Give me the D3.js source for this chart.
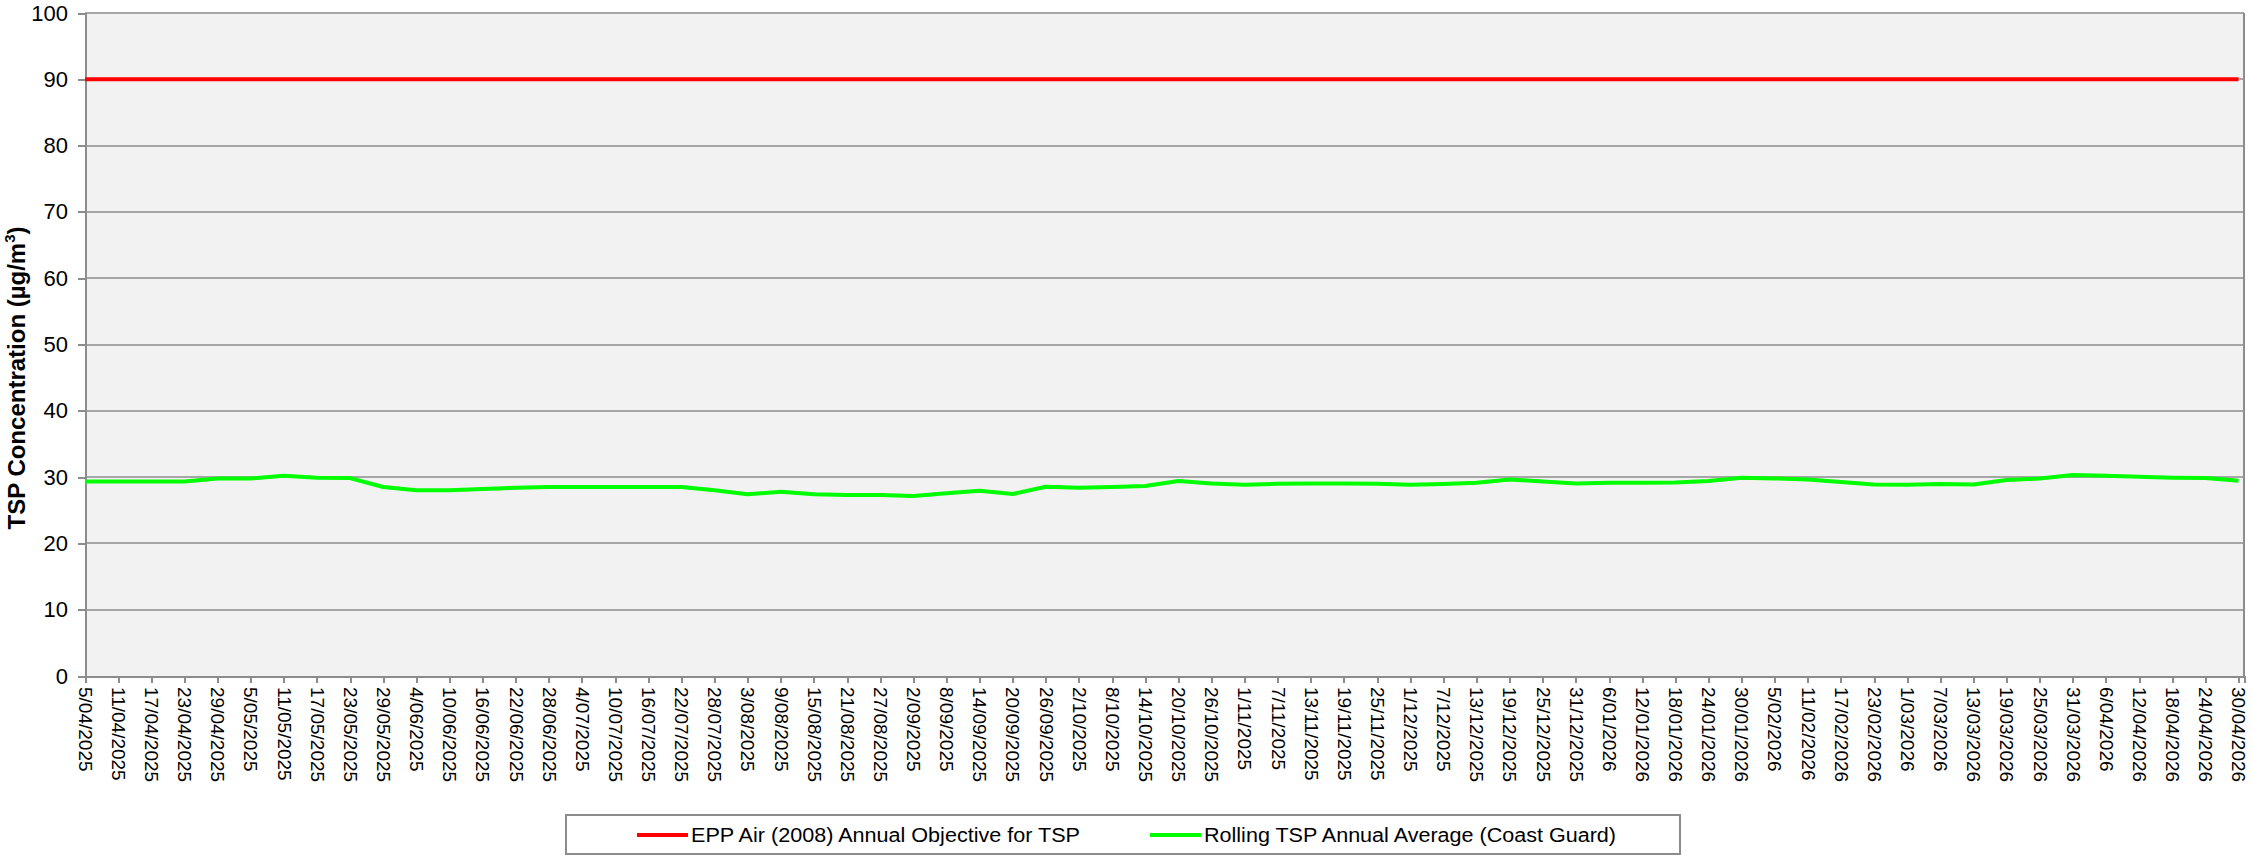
<!DOCTYPE html>
<html lang="en">
<head>
<meta charset="UTF-8">
<title>TSP rolling average</title>
<script src="https://d3js.org/d3.v7.min.js"></script>
<style>
    body { margin: 0; background: #fff; }
    svg { font-family: "Liberation Sans", Arial, sans-serif; }
    .axis path, .axis line { fill: none; stroke: #8c8c8c; stroke-width: 2; shape-rendering: crispEdges; }
    .axis text { fill: #000; }
</style>
</head>
<body>
<script>
    const width = 2252
    const height = 856
    const margin = {left: 85, right: 8, top: 13, bottom: 180}

    // sampling dates (every 6 days) used as category ticks
    const dates = ["5/04/2025", "11/04/2025", "17/04/2025", "23/04/2025", "29/04/2025", "5/05/2025",
        "11/05/2025", "17/05/2025", "23/05/2025", "29/05/2025", "4/06/2025", "10/06/2025", "16/06/2025",
        "22/06/2025", "28/06/2025", "4/07/2025", "10/07/2025", "16/07/2025", "22/07/2025", "28/07/2025",
        "3/08/2025", "9/08/2025", "15/08/2025", "21/08/2025", "27/08/2025", "2/09/2025", "8/09/2025",
        "14/09/2025", "20/09/2025", "26/09/2025", "2/10/2025", "8/10/2025", "14/10/2025", "20/10/2025",
        "26/10/2025", "1/11/2025", "7/11/2025", "13/11/2025", "19/11/2025", "25/11/2025", "1/12/2025",
        "7/12/2025", "13/12/2025", "19/12/2025", "25/12/2025", "31/12/2025", "6/01/2026", "12/01/2026",
        "18/01/2026", "24/01/2026", "30/01/2026", "5/02/2026", "11/02/2026", "17/02/2026", "23/02/2026",
        "1/03/2026", "7/03/2026", "13/03/2026", "19/03/2026", "25/03/2026", "31/03/2026", "6/04/2026",
        "12/04/2026", "18/04/2026", "24/04/2026", "30/04/2026"]

    // Rolling TSP Annual Average (Coast Guard), ug/m3
    const rollingAvg = [29.35, 29.35, 29.35, 29.35, 29.8, 29.8, 30.2, 29.9, 29.85, 28.5,
        28.0, 28.0, 28.2, 28.4, 28.5, 28.5, 28.5, 28.5, 28.5, 28.0,
        27.4, 27.8, 27.4, 27.3, 27.3, 27.15, 27.55, 27.95, 27.45, 28.55,
        28.4, 28.5, 28.65, 29.4, 29.05, 28.85, 29.0, 29.05, 29.05, 29.0,
        28.85, 28.95, 29.15, 29.65, 29.35, 29.05, 29.15, 29.15, 29.2, 29.4,
        29.9, 29.8, 29.65, 29.25, 28.9, 28.85, 28.95, 28.9, 29.55, 29.8,
        30.3, 30.2, 30.05, 29.9, 29.85, 29.45]

    // EPP Air (2008) annual objective for TSP
    const objective = 90
    const axisEnd = "1/05/2026"

    const yTicks = [0, 10, 20, 30, 40, 50, 60, 70, 80, 90, 100]

    const parse = d3.timeParse("%d/%m/%Y")
    const xDates = dates.map(parse)

    const x = d3.scaleTime()
        .domain([xDates[0], parse(axisEnd)])
        .range([margin.left, width - margin.right])
    const y = d3.scaleLinear()
        .domain([0, 100])
        .range([676, margin.top])

    const svg = d3.select("body").append("svg")
        .attr("width", width)
        .attr("height", height)

    // plot background
    svg.append("rect")
        .attr("x", x.range()[0])
        .attr("y", y(100))
        .attr("width", x.range()[1] - x.range()[0])
        .attr("height", y(0) - y(100))
        .attr("fill", "#f2f2f2")

    // gridlines
    svg.append("g")
        .selectAll("line")
        .data(yTicks.filter(d => d > 0))
        .enter()
        .append("line")
        .attr("x1", x.range()[0])
        .attr("x2", x.range()[1])
        .attr("y1", d => y(d))
        .attr("y2", d => y(d))
        .attr("stroke", "#a6a6a6")
        .attr("stroke-width", 2)
        .attr("shape-rendering", "crispEdges")

    // right border
    svg.append("line")
        .attr("x1", x.range()[1]).attr("x2", x.range()[1])
        .attr("y1", y(100)).attr("y2", y(0))
        .attr("stroke", "#8c8c8c")
        .attr("stroke-width", 2)

    const yAxis = d3.axisLeft(y)
        .tickValues(yTicks)
        .tickSize(7)
        .tickPadding(10)
    svg.append("g")
        .attr("class", "axis")
        .attr("transform", "translate(" + x.range()[0] + ",0)")
        .call(yAxis)
        .selectAll("text")
        .attr("font-size", 22)

    const xAxis = d3.axisBottom(x)
        .tickValues(xDates)
        .tickSize(7)
        .tickFormat((d, i) => dates[i])
    const gx = svg.append("g")
        .attr("class", "axis")
        .attr("transform", "translate(0," + y(0) + ")")
        .call(xAxis)
    gx.selectAll("text")
        .attr("font-size", 19)
        .attr("transform", "rotate(90)")
        .attr("x", 11)
        .attr("y", 0)
        .attr("dy", "0.35em")
        .attr("text-anchor", "start")

    // y axis title
    const title = svg.append("text")
        .attr("transform", "translate(25,378) rotate(-90)")
        .attr("text-anchor", "middle")
        .attr("font-size", 24)
        .attr("font-weight", "bold")
    title.append("tspan").text("TSP Concentration (µg/m")
    title.append("tspan").text("3").attr("font-size", 15).attr("dy", -10)
    title.append("tspan").text(")").attr("dy", 10)

    // objective line
    const line = d3.line()
        .x(d => x(d[0]))
        .y(d => y(d[1]))
    svg.append("path")
        .datum([[xDates[0], objective], [xDates[xDates.length - 1], objective]])
        .attr("d", line)
        .attr("fill", "none")
        .attr("stroke", "#ff0000")
        .attr("stroke-width", 4)

    // rolling average line
    svg.append("path")
        .datum(xDates.map((d, i) => [d, rollingAvg[i]]))
        .attr("d", line)
        .attr("fill", "none")
        .attr("stroke", "#00ff00")
        .attr("stroke-width", 4)
        .attr("stroke-linejoin", "round")

    // legend
    svg.append("rect")
        .attr("x", 566)
        .attr("y", 815)
        .attr("width", 1114)
        .attr("height", 39)
        .attr("fill", "#fff")
        .attr("stroke", "#8c8c8c")
        .attr("stroke-width", 2)

    const legendItems = [
        {label: "EPP Air (2008) Annual Objective for TSP", color: "#ff0000", x: 637},
        {label: "Rolling TSP Annual Average (Coast Guard)", color: "#00ff00", x: 1150}
    ]
    const lg = svg.selectAll(".legend")
        .data(legendItems)
        .enter()
        .append("g")
        .attr("class", "legend")
        .attr("transform", d => "translate(" + d.x + ",835)")
    lg.append("line")
        .attr("x1", 0).attr("x2", 51)
        .attr("y1", 0).attr("y2", 0)
        .attr("stroke", d => d.color)
        .attr("stroke-width", 4)
    lg.append("text")
        .text(d => d.label)
        .attr("x", 54)
        .attr("dy", "0.35em")
        .attr("font-size", 20)
        .attr("textLength", (d, i) => i === 0 ? 389 : 412)
        .attr("lengthAdjust", "spacingAndGlyphs")
</script>
</body>
</html>
